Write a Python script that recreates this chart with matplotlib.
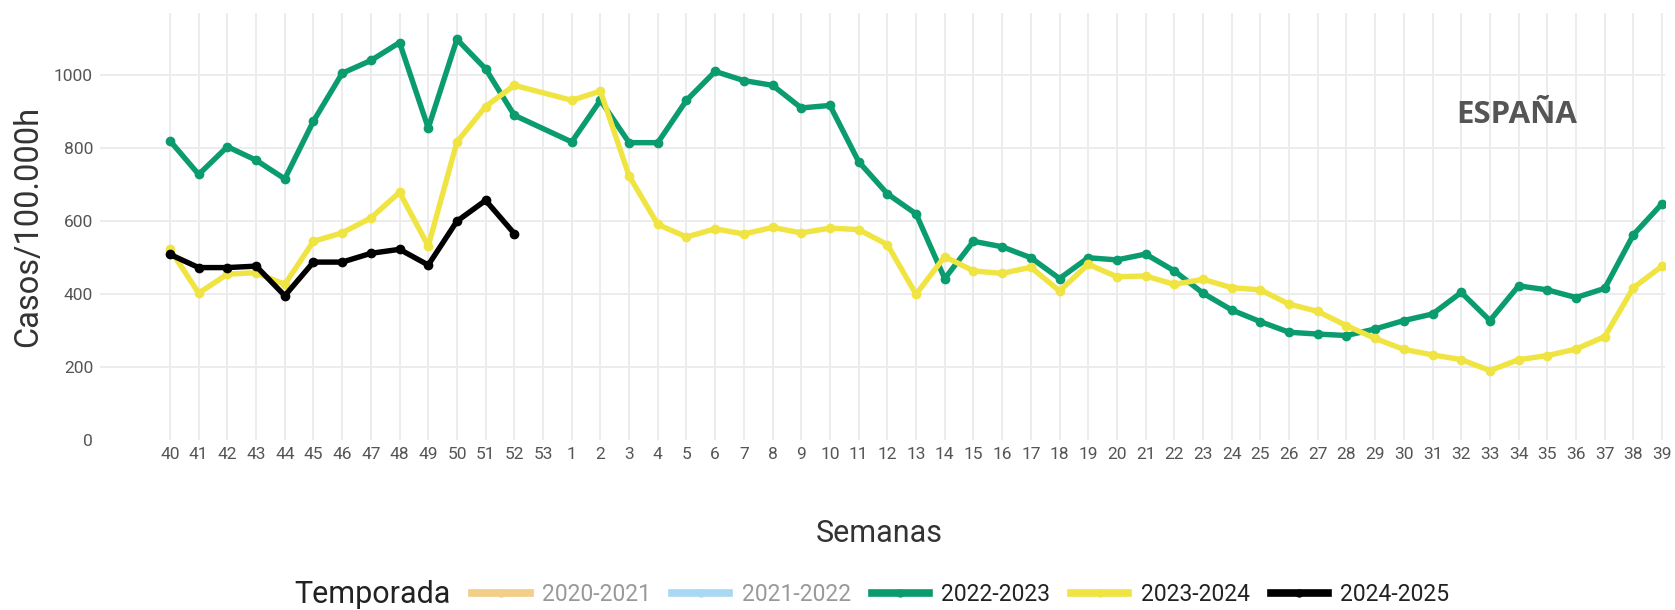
import numpy as np
import matplotlib
matplotlib.use("Agg")
import matplotlib.pyplot as plt
from matplotlib.lines import Line2D

plt.rcParams['font.family'] = ['Roboto', 'DejaVu Sans']

# semanas epidemiologicas (temporada de la 40 a la 39)
semanas = [str(w) for w in range(40, 54)] + [str(w) for w in range(1, 40)]

# semanas con dato (la 53 no tiene)
semanas_dato = [str(w) for w in range(40, 53)] + [str(w) for w in range(1, 40)]

tasa_2022_2023 = [819, 727, 803, 766, 715, 873, 1004, 1039, 1088, 854, 1097, 1016, 889,
                  816, 930, 814, 814, 930, 1009, 984, 971, 909, 916, 762, 674, 619, 442,
                  544, 529, 499, 442, 499, 493, 509, 463, 402, 356, 324, 295, 290, 286,
                  304, 327, 345, 404, 327, 422, 411, 390, 415, 562, 647]
tasa_2023_2024 = [522, 402, 454, 458, 426, 544, 567, 608, 678, 531, 816, 913, 971,
                  930, 955, 723, 590, 556, 578, 564, 582, 567, 580, 576, 535, 399, 502,
                  463, 456, 473, 408, 481, 447, 449, 426, 440, 417, 411, 372, 352, 313,
                  278, 248, 233, 220, 190, 220, 231, 249, 283, 417, 476]
tasa_2024_2025 = [508, 472, 472, 476, 395, 487, 487, 511, 522, 479, 599, 656, 565]

temporadas = ['2020-2021', '2021-2022', '2022-2023', '2023-2024', '2024-2025']
colores = ['#F2CE86', '#A9D8F3', '#0A9B6F', '#F0E442', '#000000']
visibles = [False, False, True, True, True]

fig = plt.figure(figsize=(16.75, 6.10), dpi=100)
ax = fig.add_axes([0.0597, 0.2787, 0.9343, 0.70])

pos = {s: i for i, s in enumerate(semanas)}
series = {'2022-2023': tasa_2022_2023, '2023-2024': tasa_2023_2024, '2024-2025': tasa_2024_2025}
for temp, col in zip(temporadas, colores):
    if temp not in series:
        continue
    vals = series[temp]
    xs = [pos[s] for s in semanas_dato[:len(vals)]]
    ax.plot(xs, vals, color=col, lw=3.9, marker='o', ms=6, solid_joinstyle='round',
            solid_capstyle='round', zorder=3)

ax.set_xlim(-2.44, 52.1)
ax.set_ylim(0, 1169)
ax.set_xticks(range(len(semanas)))
ax.set_xticklabels(semanas)
ax.set_yticks([0, 200, 400, 600, 800, 1000])
ax.set_yticklabels(['0', '200', '400', '600', '800', '1000'])
ax.tick_params(axis='both', length=0, labelsize=12.5, labelcolor='#555555')
ax.tick_params(axis='x', pad=5)
ax.tick_params(axis='y', pad=5)
ax.grid(True, color='#EBEBEB', lw=1.3)
ax.get_ygridlines()[0].set_visible(False)
ax.set_axisbelow(True)
for sp in ax.spines.values():
    sp.set_visible(False)

ax.set_ylabel('Casos/100.000h', fontsize=23.5, color='#333333', labelpad=7)
fig.text(0.525, 0.125, 'Semanas', fontsize=22, color='#333333', ha='center', va='center')

ax.text(0.905, 0.76, 'ESPAÑA', transform=ax.transAxes, fontsize=22.5, fontweight='bold',
        family=['Open Sans', 'DejaVu Sans'], color='#555555', ha='center', va='center')

# leyenda inferior
fig.text(0.1755, 0.025, 'Temporada', fontsize=22, color='#222222', ha='left', va='center')
handles = [Line2D([0], [0], color=c, lw=5.5, marker='o', ms=5) for c in colores]
leg = fig.legend(handles, temporadas, loc='center left', bbox_to_anchor=(0.282, 0.025),
                 ncol=5, frameon=False, fontsize=16.5, handlelength=2.5, handletextpad=0.55,
                 columnspacing=0.9, borderpad=0, borderaxespad=0)
for txt, vis in zip(leg.get_texts(), visibles):
    txt.set_color('#222222' if vis else '#999999')

fig.savefig('out.png', dpi=100)
